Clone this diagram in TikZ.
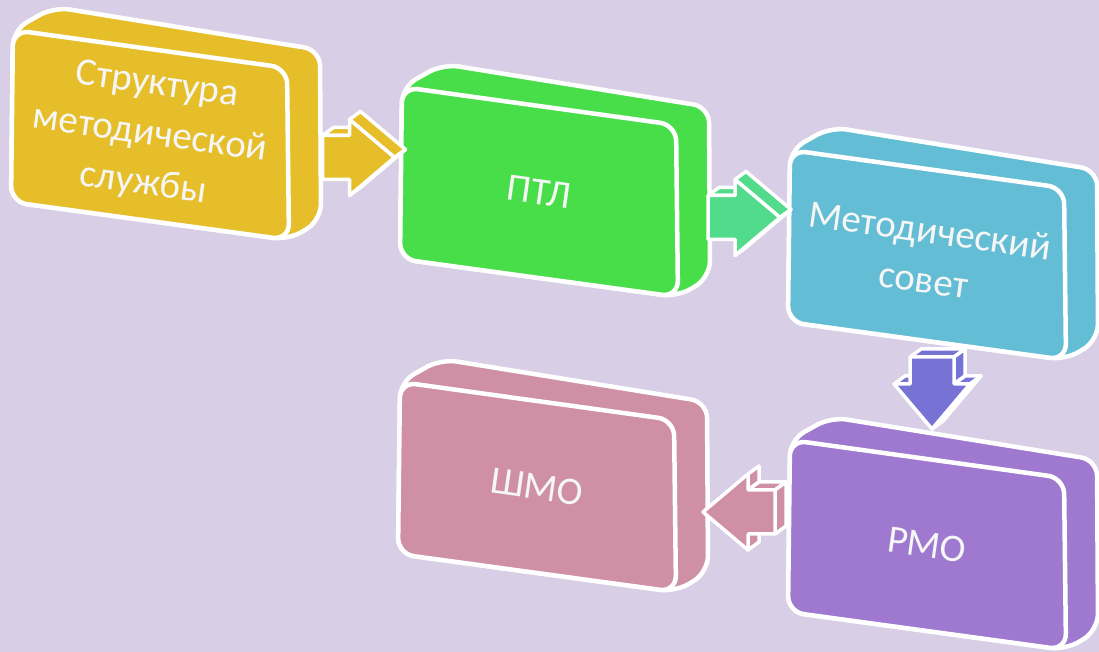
\documentclass[tikz,border=0pt]{standalone}
\usepackage{fontspec}
\setmainfont{Carlito}
\usetikzlibrary{calc}

\definecolor{bgLilac}{RGB}{216,206,230}
\definecolor{boxGold}{RGB}{229,190,42}
\definecolor{boxGreen}{RGB}{72,222,74}
\definecolor{boxSky}{RGB}{99,189,212}
\definecolor{boxViolet}{RGB}{159,120,208}
\definecolor{boxRose}{RGB}{207,144,166}
\definecolor{arrMint}{RGB}{82,219,138}
\definecolor{arrIndigo}{RGB}{119,115,212}
\definecolor{textWhite}{RGB}{246,246,246}

\tikzset{
  slabedge/.style={draw=white, line width=4.5, rounded corners=16, line join=round},
  slabtext/.style={text=textWhite, font=\fontsize{39}{50}\selectfont, align=center, rotate=-8},
  arrowedge/.style={draw=white, line width=3.5, line join=round},
}

% 3D block arrow: name, position, turn, colour, visible sides
\newcommand{\blockarrow}[5]{%
  \begin{scope}[shift={#2}, rotate=#3]
    \coordinate (#1-a) at (0,22);
    \coordinate (#1-b) at (27,22);
    \coordinate (#1-c) at (27,38);
    \coordinate (#1-d) at (72,0);
    \coordinate (#1-e) at (27,-38);
    \coordinate (#1-f) at (27,-22);
    \coordinate (#1-g) at (0,-22);
  \end{scope}
  \foreach \p/\q in {#5}
    \filldraw[arrowedge, fill=#4] (#1-\p) -- (#1-\q) -- ($(#1-\q)+(11,8)$) -- ($(#1-\p)+(11,8)$) -- cycle; % Depth
  \filldraw[arrowedge, fill=#4] (#1-a) -- (#1-b) -- (#1-c) -- (#1-d) -- (#1-e) -- (#1-f) -- (#1-g) -- cycle; % Front
}

\begin{document}
\begin{tikzpicture}[x=1pt, y=1pt]
  % Background
  \fill[bgLilac] (0,0) rectangle (1099,652);
  \useasboundingbox (0,0) rectangle (1099,652);

  % Boxes
  \foreach \name/\x/\y/\col/\txt in {
      struct/13/622/boxGold/{Структура\\методической\\службы},
      ptl/402/565/boxGreen/ПТЛ,
      council/790/502/boxSky/{Методический\\совет},
      rmo/790/212/boxViolet/РМО,
      shmo/400/270/boxRose/ШМО} {
    \begin{scope}[shift={(\x,\y)}]
      \filldraw[slabedge, fill=\col] (-1,-86) -- (0,0) -- (41,23) -- (307,-20) -- (308,-190) -- (276,-210) -- (-2,-172) -- cycle; % Body
      \filldraw[slabedge, fill=\col] (-1,-86) -- (0,0) -- (274,-38) -- (276,-210) -- (-2,-172) -- cycle; % Front face
      \node[slabtext] (\name) at (137,-105) {\txt};
    \end{scope}
  }

  % Arrows
  \blockarrow{a1}{($(struct)!0.5!(ptl)+(-22,6)$)}{0}{boxGold}{a/b, c/d, d/e}
  \blockarrow{a2}{($(ptl)!0.5!(council)+(-25,6)$)}{0}{arrMint}{a/b, c/d, d/e}
  \blockarrow{a3}{($(council)!0.5!(rmo)+(5,43)$)}{-90}{arrIndigo}{g/a, a/b, b/c, c/d, e/f}
  \blockarrow{a4}{($(rmo)!0.5!(shmo)+(43,4)$)}{180}{boxRose}{b/c, e/f, f/g, g/a}
\end{tikzpicture}
\end{document}
